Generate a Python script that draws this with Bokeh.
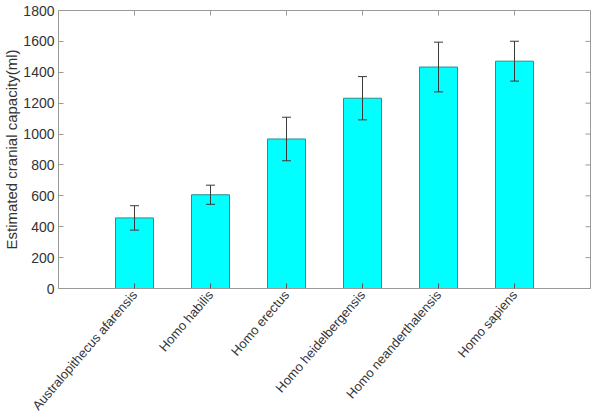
import math
from bokeh.plotting import figure
from bokeh.models import ColumnDataSource, FixedTicker, Range1d, Whisker, TeeHead
from bokeh.embed import file_html
from bokeh.resources import INLINE

species = ["Australopithecus afarensis", "Homo habilis", "Homo erectus",
           "Homo heidelbergensis", "Homo neanderthalensis", "Homo sapiens"]
capacity = [457, 607, 968, 1232, 1434, 1472]
error = [79, 62, 141, 140, 161, 129]
y_ticks = [0, 200, 400, 600, 800, 1000, 1200, 1400, 1600, 1800]
y_label = "Estimated cranial capacity(ml)"

pos = list(range(1, len(species) + 1))
x_max = len(species) + 1
y_max = y_ticks[-1]

src = ColumnDataSource(dict(
    x=pos, top=capacity, base0=[0] * len(pos), top_edge=[y_max] * len(pos),
    upper=[c + e for c, e in zip(capacity, error)],
    lower=[c - e for c, e in zip(capacity, error)],
))
rsrc = ColumnDataSource(dict(x=[x_max] * len(y_ticks), y=y_ticks))

FONT = "Liberation Sans"
AXC = "#9a9a9a"
TXT = "#333333"

p = figure(width=599, height=420, output_backend="svg", toolbar_location=None,
           x_range=Range1d(0, x_max), y_range=Range1d(0, y_max),
           min_border_left=57, min_border_top=10, min_border_right=9, min_border_bottom=125)
p.background_fill_color = "white"
p.border_fill_color = "white"
p.outline_line_color = AXC
p.outline_line_width = 1
p.xgrid.visible = False
p.ygrid.visible = False

p.vbar(x="x", top="top", width=0.5, bottom=0, source=src,
       fill_color="#00FFFF", line_color="#2f8c8c", line_width=1)

w = Whisker(source=src, base="x", upper="upper", lower="lower",
            line_color="#3a3a3a", line_width=1, level="overlay",
            upper_head=TeeHead(size=9, line_color="#3a3a3a", line_width=1),
            lower_head=TeeHead(size=9, line_color="#3a3a3a", line_width=1))
p.add_layout(w)

# inward tick marks on top and right edges
p.ray(x="x", y="top_edge", length=5, length_units="screen", angle=-math.pi / 2,
      line_color=AXC, line_width=1, source=src)
p.ray(x="x", y="y", length=5, length_units="screen", angle=math.pi,
      line_color=AXC, line_width=1, source=rsrc)

# bottom axis with rotated category names
xa = p.xaxis[0]
xa.ticker = FixedTicker(ticks=pos)
xa.major_label_overrides = {i: s for i, s in zip(pos, species)}
xa.major_label_orientation = 0.86
xa.major_label_text_font = FONT
xa.major_label_text_font_size = "13px"
xa.major_label_text_color = TXT
xa.major_label_standoff = 4
xa.major_tick_in = 5
xa.major_tick_out = 0
xa.minor_tick_line_color = None
xa.axis_line_color = AXC
xa.major_tick_line_color = "#555555"

# left axis
ya = p.yaxis[0]
ya.ticker = FixedTicker(ticks=y_ticks)
ya.axis_label = y_label
ya.axis_label_text_font = FONT
ya.axis_label_text_font_size = "15px"
ya.axis_label_text_font_style = "normal"
ya.axis_label_text_color = TXT
ya.axis_label_standoff = 0
ya.major_label_text_font = FONT
ya.major_label_text_font_size = "14px"
ya.major_label_text_color = TXT
ya.major_label_standoff = 4
ya.major_tick_in = 5
ya.major_tick_out = 0
ya.minor_tick_line_color = None
ya.axis_line_color = AXC
ya.major_tick_line_color = AXC

open("out.html", "w").write(file_html(p, INLINE))
